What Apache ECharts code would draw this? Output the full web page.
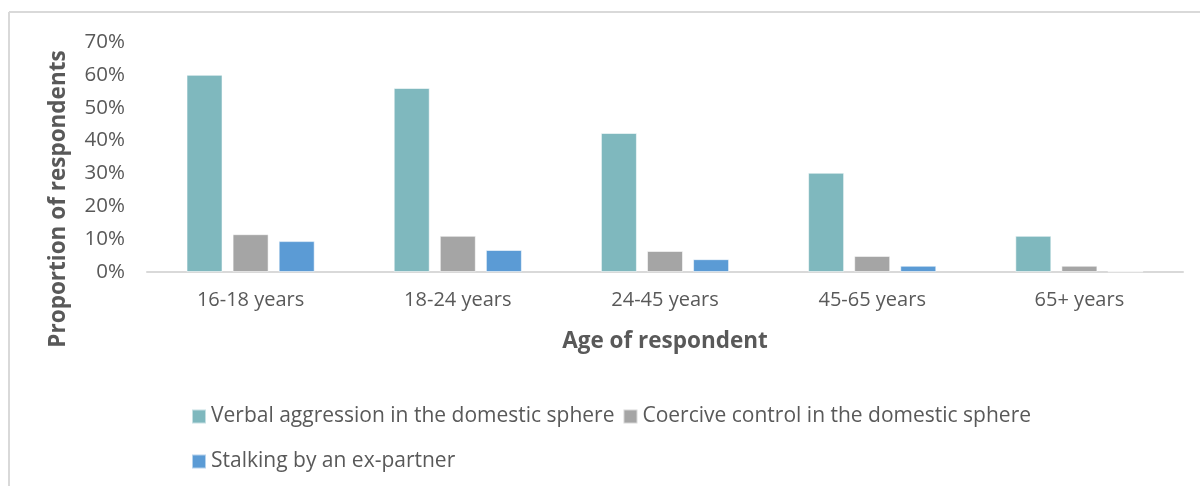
<!DOCTYPE html>
<html>
<head>
<meta charset="utf-8">
<script src="https://cdn.jsdelivr.net/npm/echarts@6/dist/echarts.min.js"></script>
<style>
  html, body { margin: 0; padding: 0; background: #fff; }
  #chart { width: 1200px; height: 486px; }
</style>
</head>
<body>
<div id="chart"></div>
<script>
// data
var ageGroups = ['16-18 years', '18-24 years', '24-45 years', '45-65 years', '65+ years']
var verbalAggression = [0.60, 0.56, 0.423, 0.302, 0.11]
var coerciveControl = [0.115, 0.11, 0.064, 0.049, 0.019]
var stalkingExPartner = [0.094, 0.067, 0.039, 0.019, 0.002]
var seriesNames = [
  'Verbal aggression in the domestic sphere',
  'Coercive control in the domestic sphere',
  'Stalking by an ex-partner'
]

var fontFamily = '"Open Sans", sans-serif'
var textColor = '#595959'

var myChart = echarts.init(document.getElementById('chart'))

function barSeries (name, values, color) {
  return {
    name: name,
    type: 'bar',
    barWidth: 36,
    barGap: '28%',
    itemStyle: {
      color: color,
      borderColor: 'rgba(255,255,255,0.55)',
      borderWidth: 1
    },
    data: values
  }
}

var legendText = { fontSize: 21, color: textColor, fontFamily: fontFamily }

var option = {
  backgroundColor: '#fff',
  animation: false,
  textStyle: { fontFamily: fontFamily },
  graphic: [
    // chart area frame (top and left edges only, as in the picture)
    { type: 'line', shape: { x1: 9, y1: 12, x2: 1200, y2: 12 }, style: { stroke: '#d9d9d9', lineWidth: 2 } },
    { type: 'line', shape: { x1: 9, y1: 12, x2: 9, y2: 486 }, style: { stroke: '#d9d9d9', lineWidth: 2 } }
  ],
  grid: {
    left: 147,
    right: 17,
    top: 42,
    bottom: 214
  },
  legend: [{
    left: 191,
    top: 406,
    padding: 0,
    itemWidth: 14,
    itemHeight: 14,
    itemGap: 8,
    icon: 'rect',
    textStyle: legendText,
    data: [seriesNames[0], seriesNames[1]]
  }, {
    left: 191,
    top: 451,
    padding: 0,
    itemWidth: 14,
    itemHeight: 14,
    icon: 'rect',
    textStyle: legendText,
    data: [seriesNames[2]]
  }],
  xAxis: {
    type: 'category',
    data: ageGroups,
    name: 'Age of respondent',
    nameLocation: 'middle',
    nameGap: 58,
    nameTextStyle: { fontSize: 22.5, fontWeight: 'bold', color: textColor, fontFamily: fontFamily },
    axisLine: { lineStyle: { color: '#d9d9d9', width: 2 } },
    axisTick: { show: false },
    axisLabel: { fontSize: 20, color: textColor, margin: 18 }
  },
  yAxis: {
    type: 'value',
    min: 0,
    max: 0.7,
    interval: 0.1,
    name: 'Proportion of respondents',
    nameLocation: 'middle',
    nameGap: 77,
    nameTextStyle: {
      fontSize: 22.5,
      fontWeight: 'bold',
      color: textColor,
      fontFamily: fontFamily,
      padding: [0, 84, 0, 0]
    },
    splitLine: { show: false },
    axisLine: { show: false },
    axisTick: { show: false },
    axisLabel: {
      fontSize: 20.5,
      color: textColor,
      margin: 22,
      formatter: function (v) {
        return Math.round(v * 100) + '%'
      }
    }
  },
  series: [
    barSeries(seriesNames[0], verbalAggression, '#7fb8be'),
    barSeries(seriesNames[1], coerciveControl, '#a5a5a5'),
    barSeries(seriesNames[2], stalkingExPartner, '#5b9bd5')
  ]
}
myChart.setOption(option)
</script>
</body>
</html>
